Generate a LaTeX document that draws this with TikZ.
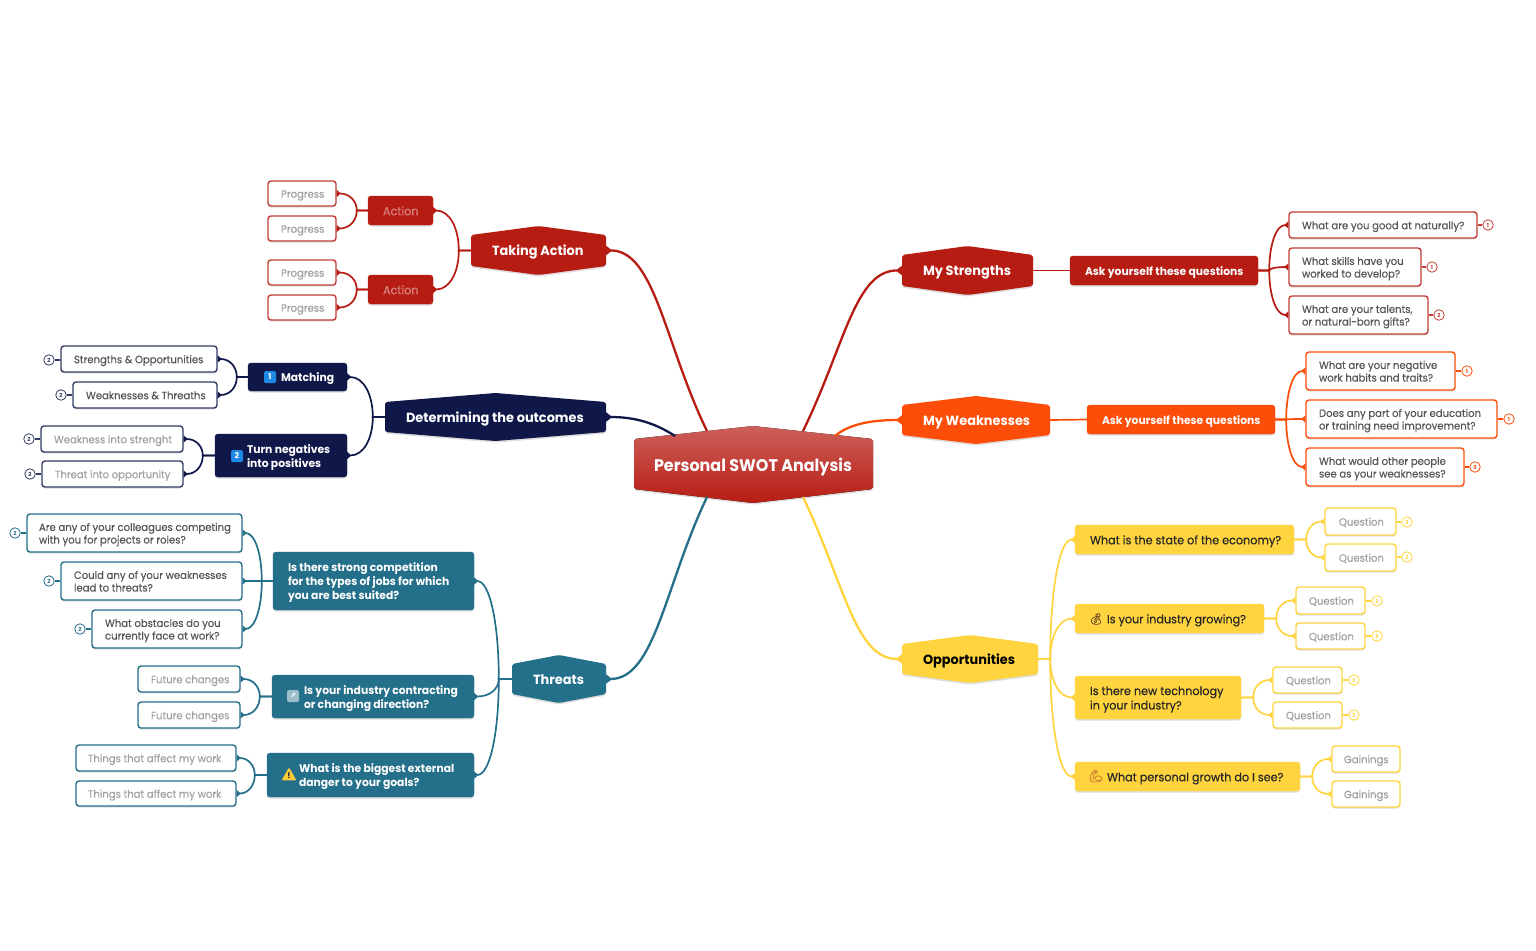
\documentclass[tikz,border=0pt]{standalone}
\usepackage{fontspec}
\usetikzlibrary{arrows.meta,calc,shadows,shapes.geometric}
\setmainfont{Poppins}
\newfontfamily\bodyf{Poppins}[FakeStretch=0.95,FakeBold=0.2]
\newfontfamily\tfont{Poppins}[FakeStretch=0.97]
\newfontfamily\bigf{Poppins}[FakeStretch=0.95]
\newfontfamily\emo{Noto Emoji}[FakeBold=1]
\newfontfamily\djf{DejaVu Sans}
\definecolor{cred}{HTML}{B71C13}
\definecolor{corg}{HTML}{FC4E08}
\definecolor{cnav}{HTML}{10184A}
\definecolor{ctea}{HTML}{246F8A}
\definecolor{cyel}{HTML}{FFD43F}
\definecolor{tgrey}{HTML}{555555}
\definecolor{lgrey}{HTML}{A0A0A0}
\definecolor{ckey}{HTML}{1E88E5}
\tikzset{
  shd/.style={drop shadow={shadow xshift=0pt,shadow yshift=-1.6pt,opacity=.13,fill=black}},
  fillbox/.style={fill=#1,draw=#1,rounded corners=3pt,shd},
  linebox/.style={fill=white,draw=#1,line width=1.4pt,rounded corners=3pt,shd},
  hexbody/.style={fill=#1,rounded corners=2pt,shd},
  conn/.style={draw=#1,line width=1.7pt},
  mainconn/.style={draw=#1,line width=2.3pt},
  fine/.style={draw=#1,line width=1.1pt},
  badge/.style={circle,fill=white,draw=#1,line width=.8pt,minimum size=10.5pt,inner sep=0pt,font=\fontsize{5.5}{6}\selectfont\bfseries,text=#1},
  keycap/.style={fill=ckey,rounded corners=1.5pt,minimum size=12pt,inner sep=0pt,text=white,font=\fontsize{8}{9}\selectfont\bfseries},
  sm/.style={font=\bodyf\fontsize{10.6}{12.6}\selectfont},
  md/.style={font=\bodyf\fontsize{11.8}{14.4}\selectfont},
  mdb/.style={font=\tfont\fontsize{11.1}{14}\selectfont\bfseries},
  ttl/.style={font=\tfont\fontsize{13.3}{15}\selectfont\bfseries},
  bigt/.style={font=\bigf\fontsize{16.8}{20}\selectfont\bfseries},
}
% box: name,x1,y1,x2,y2,inset,style,text
\newcommand\bx[8]{%
  \pgfmathsetmacro\cxx{(#2+#4)/2}\pgfmathsetmacro\cyy{(#3+#5)/2}%
  \pgfmathsetmacro\ww{#4-#2}\pgfmathsetmacro\hh{#5-#3}%
  \node[rectangle,inner sep=0pt,minimum width=\ww pt,minimum height=\hh pt,#7] (#1) at (\cxx,\cyy)
    {\makebox[\ww pt][l]{\hspace*{#6pt}\raisebox{0pt}[\dimexpr\height+.32em\relax][\depth]{\begin{tabular}{@{}l@{}}#8\end{tabular}}}};}
% hexagon: name,x1,y1,x2,y2,side,body style,text style,text
\newcommand\hx[9]{%
  \pgfmathsetmacro\mxx{(#2+#4)/2}\pgfmathsetmacro\tyy{#3+#6}\pgfmathsetmacro\byy{#5-#6}%
  \fill[#7] (#2,\tyy) -- (\mxx,#3) -- (#4,\tyy) -- (#4,\byy) -- (\mxx,#5) -- (#2,\byy) -- cycle;
  \bx{#1}{#2}{#3}{#4}{#5}{21}{#8}{#9}}
% child connectors: colour, child, parent, stem
\newcommand\lc[4]{%
  \path (#3.west) ++(-#4,0) coordinate (bb);
  \draw[conn=#1,{Triangle[reversed,length=4pt,width=7pt]}-] (#2.east) .. controls ($(bb |- #2.east)!.35!(#2.east)$) and ($(bb |- #2.east)!.45!(bb)$) .. (bb) -- (#3.west);}
\newcommand\rc[4]{%
  \path (#3.east) ++(#4,0) coordinate (bb);
  \draw[conn=#1,{Triangle[reversed,length=4pt,width=7pt]}-] (#2.west) .. controls ($(bb |- #2.west)!.35!(#2.west)$) and ($(bb |- #2.west)!.45!(bb)$) .. (bb) -- (#3.east);}
% badge: name,x,y,colour,number,box,anchor
\newcommand\bdg[7]{\node[badge=#4] (#1) at (#2,#3) {#5}; \draw[fine=#4] (#1) -- (#6.#7 |- #1);}
\begin{document}
\begin{tikzpicture}[x=1pt,y=-1pt]
\useasboundingbox (0,0) rectangle (1536,950);
\fill[white] (0,0) rectangle (1536,950);

% ---------- centre
\fill[top color=cred!70!white,bottom color=cred,rounded corners=2pt,shd] (634,439) -- (753,426) -- (873,439) -- (873,489) -- (753,503) -- (634,489) -- cycle;
\bx{cen}{634}{426}{873}{503}{20}{bigt,text=white}{Personal SWOT Analysis}
\coordinate (cTA) at (707,431);
\coordinate (cDO) at (675,436);
\coordinate (cTH) at (707,497);
\coordinate (cMS) at (803,431);
\coordinate (cMW) at (835,436);
\coordinate (cOP) at (803,497);

% ---------- Taking Action
\hx{ta}{471}{226}{606}{275}{9}{hexbody=cred}{ttl,text=white}{Taking Action}
\bx{a1}{368}{196}{433}{225}{15}{fillbox=cred,md,text=cred!55!white}{Action}
\bx{a2}{368}{275}{433}{304}{15}{fillbox=cred,md,text=cred!55!white}{Action}
\bx{p1}{268}{181}{336}{206}{13}{linebox=cred!85!white,sm,text=lgrey}{Progress}
\bx{p2}{268}{216}{336}{241}{13}{linebox=cred!85!white,sm,text=lgrey}{Progress}
\bx{p3}{268}{260}{336}{285}{13}{linebox=cred!85!white,sm,text=lgrey}{Progress}
\bx{p4}{268}{295}{336}{320}{13}{linebox=cred!85!white,sm,text=lgrey}{Progress}
\lc{cred}{a1}{ta}{12}\lc{cred}{a2}{ta}{12}
\lc{cred}{p1}{a1}{11}\lc{cred}{p2}{a1}{11}
\lc{cred}{p3}{a2}{11}\lc{cred}{p4}{a2}{11}
\draw[mainconn=cred,{Triangle[reversed,length=6pt,width=9pt]}-] (ta.east) .. controls (655,250) and (665,345) .. (cTA);

% ---------- Determining
\hx{de}{385}{393}{606}{441}{9}{hexbody=cnav}{ttl,text=white}{Determining the outcomes}
\bx{ma}{248}{363}{347}{391}{33}{fillbox=cnav,mdb,text=white}{Matching}
\bx{tn}{215}{434}{347}{477}{32}{fillbox=cnav,mdb,text=white}{Turn negatives\\into positives}
\node[keycap] (k1) at (270,377) {1};
\node[keycap] (k2) at (237,456) {2};
\bx{m1}{61}{346}{217}{372}{13}{linebox=cnav!85!white,sm,text=tgrey}{Strengths \& Opportunities}
\bx{m2}{73}{382}{217}{408}{13}{linebox=cnav!85!white,sm,text=tgrey}{Weaknesses \& Threaths}
\bx{t1}{41}{426}{183}{452}{13}{linebox=cnav!85!white,sm,text=lgrey}{Weakness into strenght}
\bx{t2}{42}{461}{183}{487}{13}{linebox=cnav!85!white,sm,text=lgrey}{Threat into opportunity}
\lc{cnav}{ma}{de}{12}\lc{cnav}{tn}{de}{12}
\lc{cnav}{m1}{ma}{11}\lc{cnav}{m2}{ma}{11}
\lc{cnav}{t1}{tn}{12}\lc{cnav}{t2}{tn}{12}
\bdg{b1}{49}{360}{cnav!85!white}{2}{m1}{west}
\bdg{b2}{61}{395}{cnav!85!white}{2}{m2}{west}
\bdg{b3}{29}{439}{cnav!85!white}{2}{t1}{west}
\bdg{b4}{30}{474}{cnav!85!white}{2}{t2}{west}
\draw[mainconn=cnav,{Triangle[reversed,length=6pt,width=9pt]}-] (de.east) .. controls (635,417) and (655,423) .. (cDO);

% ---------- Threats
\hx{th}{512}{655}{606}{703}{9}{hexbody=ctea}{ttl,text=white}{Threats}
\bx{q1}{273}{552}{474}{610}{15}{fillbox=ctea,mdb,text=white}{Is there strong competition\\for the types of jobs for which\\you are best suited?}
\bx{q2}{272}{675}{474}{718}{32}{fillbox=ctea,mdb,text=white}{Is your industry contracting\\or changing direction?}
\bx{q3}{267}{753}{474}{797}{32}{fillbox=ctea,mdb,text=white}{What is the biggest external\\danger to your goals?}
\node[fill=ctea!45!white,rounded corners=1.5pt,minimum size=12pt,inner sep=0pt,text=white,font=\djf\fontsize{8}{9}\selectfont\bfseries] (k3) at (293,696) {↗};
\node[fill=cyel!90!orange,regular polygon,regular polygon sides=3,rounded corners=1pt,minimum size=17pt,inner sep=0pt,text=cnav!80!black,font=\fontsize{8}{9}\selectfont\bfseries] (k4) at (289,776) {!};
\bx{c1}{27}{514}{242}{552}{12}{linebox=ctea,sm,text=tgrey}{Are any of your colleagues competing\\with you for projects or roles?}
\bx{c2}{61}{562}{242}{600}{13}{linebox=ctea,sm,text=tgrey}{Could any of your weaknesses\\lead to threats?}
\bx{c3}{92}{610}{242}{648}{13}{linebox=ctea,sm,text=tgrey}{What obstacles do you\\currently face at work?}
\bx{f1}{138}{666}{240}{692}{13}{linebox=ctea,sm,text=lgrey}{Future changes}
\bx{f2}{138}{702}{240}{728}{13}{linebox=ctea,sm,text=lgrey}{Future changes}
\bx{g1}{76}{745}{236}{771}{12}{linebox=ctea,sm,text=lgrey}{Things that affect my work}
\bx{g2}{76}{781}{236}{806}{12}{linebox=ctea,sm,text=lgrey}{Things that affect my work}
\lc{ctea}{q1}{th}{13}\lc{ctea}{q2}{th}{13}\lc{ctea}{q3}{th}{13}
\lc{ctea}{c1}{q1}{11}\lc{ctea}{c2}{q1}{11}\lc{ctea}{c3}{q1}{11}
\lc{ctea}{f1}{q2}{12}\lc{ctea}{f2}{q2}{12}
\lc{ctea}{g1}{q3}{12}\lc{ctea}{g2}{q3}{12}
\bdg{b5}{15}{533}{ctea}{2}{c1}{west}
\bdg{b6}{49}{581}{ctea}{2}{c2}{west}
\bdg{b7}{80}{629}{ctea}{2}{c3}{west}
\draw[mainconn=ctea,{Triangle[reversed,length=6pt,width=9pt]}-] (th.east) .. controls (655,679) and (665,585) .. (cTH);

% ---------- My Strengths
\hx{ms}{902}{246}{1033}{295}{9}{hexbody=cred}{ttl,text=white}{My Strengths}
\bx{as}{1070}{256}{1258}{285}{15}{fillbox=cred,mdb,text=white}{Ask yourself these questions}
\bx{s1}{1289}{212}{1477}{238}{13}{linebox=cred!85!white,sm,text=tgrey}{What are you good at naturally?}
\bx{s2}{1289}{248}{1421}{286}{13}{linebox=cred!85!white,sm,text=tgrey}{What skills have you\\worked to develop?}
\bx{s3}{1289}{296}{1428}{334}{13}{linebox=cred!85!white,sm,text=tgrey}{What are your talents,\\or natural-born gifts?}
\draw[conn=cred] (ms.east) -- (as.west);
\rc{cred}{s1}{as}{11}\rc{cred}{s2}{as}{11}\rc{cred}{s3}{as}{11}
\bdg{b8}{1488}{225}{cred!85!white}{1}{s1}{east}
\bdg{b9}{1432}{267}{cred!85!white}{1}{s2}{east}
\bdg{b10}{1439}{315}{cred!85!white}{2}{s3}{east}
\draw[mainconn=cred,{Triangle[reversed,length=6pt,width=9pt]}-] (ms.west) .. controls (855,270) and (845,345) .. (cMS);

% ---------- My Weaknesses
\hx{mw}{902}{396}{1050}{444}{9}{hexbody=corg}{ttl,text=white}{My Weaknesses}
\bx{aw}{1087}{405}{1275}{434}{15}{fillbox=corg,mdb,text=white}{Ask yourself these questions}
\bx{w1}{1306}{352}{1455}{390}{13}{linebox=corg,sm,text=tgrey}{What are your negative\\work habits and traits?}
\bx{w2}{1306}{400}{1497}{438}{13}{linebox=corg,sm,text=tgrey}{Does any part of your education\\or training need improvement?}
\bx{w3}{1306}{448}{1464}{486}{13}{linebox=corg,sm,text=tgrey}{What would other people\\see as your weaknesses?}
\draw[conn=corg] (mw.east) -- (aw.west);
\rc{corg}{w1}{aw}{11}\rc{corg}{w2}{aw}{11}\rc{corg}{w3}{aw}{11}
\bdg{b11}{1467}{371}{corg}{1}{w1}{east}
\bdg{b12}{1509}{419}{corg}{1}{w2}{east}
\bdg{b13}{1475}{467}{corg}{3}{w3}{east}
\draw[mainconn=corg,{Triangle[reversed,length=6pt,width=9pt]}-] (mw.west) .. controls (875,420) and (850,423) .. (cMW);

% ---------- Opportunities
\hx{op}{902}{635}{1038}{683}{9}{hexbody=cyel}{ttl,text=black}{Opportunities}
\bx{o1}{1075}{525}{1294}{554}{15}{fillbox=cyel,md,text=black!85}{What is the state of the economy?}
\bx{o2}{1075}{604}{1264}{633}{32}{fillbox=cyel,md,text=black!85}{Is your industry growing?}
\bx{o3}{1075}{676}{1241}{719}{15}{fillbox=cyel,md,text=black!85}{Is there new technology\\in your industry?}
\bx{o4}{1075}{762}{1300}{791}{32}{fillbox=cyel,md,text=black!85}{What personal growth do I see?}
\node[inner sep=0pt,text=brown!60!black,font=\emo\fontsize{11}{12}\selectfont] (k5) at (1096,619) {💰};
\node[inner sep=0pt,text=brown!80!orange,font=\emo\fontsize{12}{13}\selectfont] (k6) at (1096,776) {💪};
\bx{y1}{1325}{508}{1396}{535}{14}{linebox=cyel,sm,text=lgrey}{Question}
\bx{y2}{1325}{544}{1396}{571}{14}{linebox=cyel,sm,text=lgrey}{Question}
\bx{y3}{1296}{587}{1365}{614}{13}{linebox=cyel,sm,text=lgrey}{Question}
\bx{y4}{1296}{623}{1365}{649}{13}{linebox=cyel,sm,text=lgrey}{Question}
\bx{y5}{1273}{667}{1342}{693}{13}{linebox=cyel,sm,text=lgrey}{Question}
\bx{y6}{1273}{702}{1342}{728}{13}{linebox=cyel,sm,text=lgrey}{Question}
\bx{y7}{1332}{746}{1400}{772}{12}{linebox=cyel,sm,text=lgrey}{Gainings}
\bx{y8}{1332}{781}{1400}{807}{12}{linebox=cyel,sm,text=lgrey}{Gainings}
\rc{cyel}{o1}{op}{12}\rc{cyel}{o2}{op}{12}\rc{cyel}{o3}{op}{12}\rc{cyel}{o4}{op}{12}
\rc{cyel}{y1}{o1}{12}\rc{cyel}{y2}{o1}{12}
\rc{cyel}{y3}{o2}{12}\rc{cyel}{y4}{o2}{12}
\rc{cyel}{y5}{o3}{12}\rc{cyel}{y6}{o3}{12}
\rc{cyel}{y7}{o4}{12}\rc{cyel}{y8}{o4}{12}
\bdg{b14}{1407}{522}{cyel}{2}{y1}{east}
\bdg{b15}{1407}{557}{cyel}{2}{y2}{east}
\bdg{b16}{1377}{601}{cyel}{2}{y3}{east}
\bdg{b17}{1377}{636}{cyel}{2}{y4}{east}
\bdg{b18}{1354}{680}{cyel}{2}{y5}{east}
\bdg{b19}{1354}{715}{cyel}{2}{y6}{east}
\draw[mainconn=cyel,{Triangle[reversed,length=6pt,width=9pt]}-] (op.west) .. controls (855,659) and (845,585) .. (cOP);
\end{tikzpicture}
\end{document}
